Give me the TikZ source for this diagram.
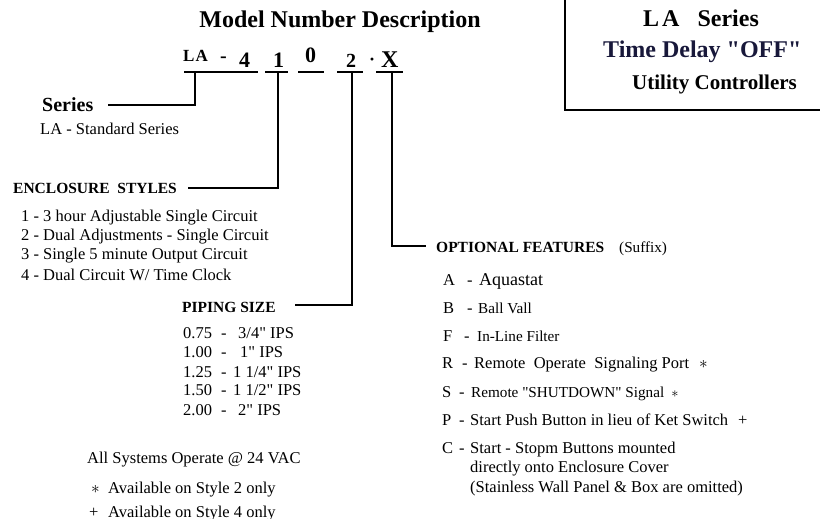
\documentclass[tikz,border=0pt]{standalone}
\usepackage{fontspec}
\setmainfont{Liberation Serif}
\usepackage{tikz}
\usetikzlibrary{positioning}
\definecolor{navy}{RGB}{24,24,58}
\newcommand{\setfs}[1]{\fontsize{#1}{#1}\selectfont}
\newcommand{\qq}{\textquotedbl}

\begin{document}
\begin{tikzpicture}[x=1pt,y=-1pt,
		tx/.style={anchor=base west,inner sep=0pt,font={\setfs{16.5}}},
		txs/.style={anchor=base west,inner sep=0pt,font={\setfs{15.2}}},
		hd/.style={anchor=base west,inner sep=0pt,font={\setfs{15.5}\bfseries}},
		bigtx/.style={anchor=base west,inner sep=0pt,font={\setfs{#1}\bfseries}},
		ln/.style={line width=2.2pt}]
		%\draw[gray,step=50] (0,0) grid (820,519);
		\useasboundingbox (0,0) rectangle (820,519);
		\node[bigtx=24,anchor=base] (title) at (340,28) {Model Number Description};
		% box top right
		\draw[line width=2pt] (565,-5) -- (565,110) -- (825,110);
		\node[bigtx=24] (laser) at (643,27) {L\kern3pt A\hspace{18pt}Series};
		\node[bigtx=24,text=navy] (delay) at (603,58) {Time Delay \qq OFF\qq};
		\node[bigtx=21] (util) at (632,90) {Utility Controllers};
		% model number
		\node[bigtx=17] (cLA) at (183,62) {L\kern1pt A};
		\node[bigtx=20] (cdash) at (220,63) {-};
		\node[bigtx=22] (c4) at (239,67) {4};
		\node[bigtx=22] (c1) at (273,67) {1};
		\node[bigtx=22] (c0) at (305,63) {0};
		\node[bigtx=20] (c2) at (346,67) {2};
		\node[bigtx=18] (cdot) at (369,66) {\textperiodcentered};
		\node[bigtx=24] (cX) at (381,67) {X};
		\draw[ln] (184,72) -- (258,72);
		\draw[ln] (265,72) -- (288,72);
		\draw[ln] (298,72) -- (324,72);
		\draw[ln] (337,72) -- (363,72);
		\draw[ln] (376,72) -- (403,72);
		\coordinate (pLA) at (195,72);
		\coordinate (p1) at (278,72);
		\coordinate (p2) at (352,72);
		\coordinate (pX) at (392,72);
		\coordinate (qLA) at (108,105);
		\coordinate (q1) at (188,188);
		\coordinate (q2) at (295,305);
		\coordinate (qX) at (426,246);
		\draw[ln] (pLA) |- (qLA);
		\draw[ln] (p1) |- (q1);
		\draw[ln] (p2) |- (q2);
		\draw[ln] (pX) |- (qX);
		% series and styles
		\node[bigtx=20] (series) at (42,111) {Series};
		\node[tx] (std) at (40,135) {LA - Standard Series};
		\node[hd] (encl) at (13,193) {ENCLOSURE\ \ STYLES};
		\node[tx] (e1) at (21,221) {1 - 3 hour Adjustable Single Circuit};
		\node[tx] (e2) at (21,240) {2 - Dual Adjustments - Single Circuit};
		\node[tx] (e3) at (21,259) {3 - Single 5 minute Output Circuit};
		\node[tx] (e4) at (21,280) {4 - Dual Circuit W/ Time Clock};
		% piping
		\node[hd] (pipe) at (182,312) {PIPING SIZE};
		\node[tx] (s1) at (183,338) {\makebox[38pt][l]{0.75}\makebox[17pt][l]{-}3/4\qq{} IPS};
		\node[tx] (s2) at (183,357) {\makebox[38pt][l]{1.00}\makebox[19pt][l]{-}1\qq{} IPS};
		\node[tx] (s3) at (183,377) {\makebox[38pt][l]{1.25}\makebox[12pt][l]{-}1 1/4\qq{} IPS};
		\node[tx] (s4) at (183,395) {\makebox[38pt][l]{1.50}\makebox[12pt][l]{-}1 1/2\qq{} IPS};
		\node[tx] (s5) at (183,415) {\makebox[38pt][l]{2.00}\makebox[17pt][l]{-}2\qq{} IPS};
		\node[tx] (volt) at (87,463) {All Systems Operate @ 24 VAC};
		\node[tx] (n1) at (91,493) {$\ast$};
		\node[tx] (av2) at (108,493) {Available on Style 2 only};
		\node[tx] (n2) at (89,517) {+};
		\node[tx] (av4) at (108,517) {Available on Style 4 only};
		% optional features
		\node[hd] (opt) at (436,252) {OPTIONAL FEATURES};
		\node[txs] (suf) at (619,252) {(Suffix)};
		\node[tx] (fA) at (443,285) {\makebox[24pt][l]{A}\makebox[12pt][l]{-}\setfs{18}Aquastat};
		\node[tx] (fB) at (443,313) {\makebox[24pt][l]{B}\makebox[11pt][l]{-}\setfs{15.2}Ball Vall};
		\node[tx] (fF) at (443,341) {\makebox[21pt][l]{F}\makebox[13pt][l]{-}\setfs{15.2}In-Line Filter};
		\node[tx] (fR) at (442,368) {\makebox[20pt][l]{R}\makebox[12pt][l]{-}Remote\ \ Operate\ \ Signaling Port\hspace{10pt}$\ast$};
		\node[tx] (fS) at (442,397) {\makebox[17pt][l]{S}\makebox[12pt][l]{-}\setfs{15.2}Remote \qq SHUTDOWN\qq{} Signal\hspace{7pt}$\ast$};
		\node[tx] (fP) at (442,425) {\makebox[17pt][l]{P}\makebox[11pt][l]{-}Start Push Button in lieu of Ket Switch\hspace{10pt}+};
		\node[tx] (fC) at (442,453) {\makebox[17pt][l]{C}\makebox[11pt][l]{-}Start - Stopm Buttons mounted};
		\node[tx] (fC2) at (470,472) {directly onto Enclosure Cover};
		\node[tx] (fC3) at (470,492) {(Stainless Wall Panel \& Box are omitted)};
	\end{tikzpicture}
\end{document}
